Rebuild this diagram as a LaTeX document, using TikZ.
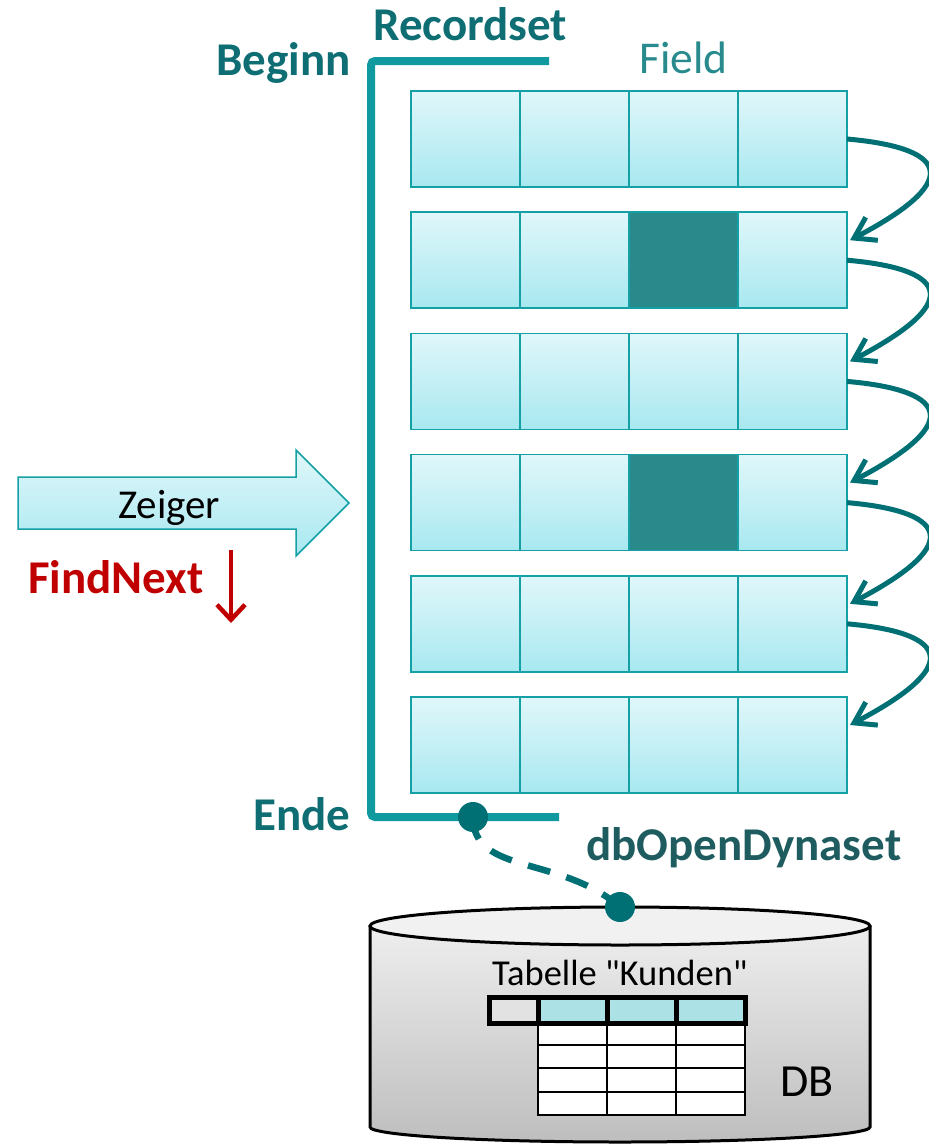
\documentclass[tikz,border=0pt]{standalone}
\usepackage{fontspec}
\setmainfont{Carlito}
\usetikzlibrary{arrows.meta}
\definecolor{bracketc}{RGB}{17,153,160}
\definecolor{darkteal}{RGB}{0,112,117}
\definecolor{labelteal}{RGB}{14,110,115}
\definecolor{dynteal}{RGB}{30,92,96}
\definecolor{fieldteal}{RGB}{40,138,140}
\definecolor{darkcell}{RGB}{42,137,139}
\definecolor{celltop}{RGB}{224,247,250}
\definecolor{cellbot}{RGB}{168,232,240}
\definecolor{cellborder}{RGB}{20,160,165}
\definecolor{findred}{RGB}{192,0,0}
\definecolor{cyltop}{RGB}{238,238,238}
\definecolor{cylbot}{RGB}{190,190,190}
\definecolor{ellfill}{RGB}{241,241,241}
\definecolor{tabteal}{RGB}{172,226,230}
\definecolor{hdrgray}{RGB}{226,226,226}
\begin{document}
\begin{tikzpicture}[x=1pt,y=-1pt,
  cell/.style={draw=cellborder, line width=1.5pt, top color=celltop, bottom color=cellbot,
    minimum width=109pt, minimum height=96pt, inner sep=0pt, outer sep=0pt},
  darkbox/.style={draw=cellborder, line width=1.5pt, fill=darkcell,
    minimum width=109pt, minimum height=96pt, inner sep=0pt, outer sep=0pt},
  curved/.style={draw=darkteal, line width=5pt, -{Straight Barb[length=20pt,width=26pt]}},
  dot/.style={circle, fill=darkteal, minimum size=30pt, inner sep=0pt},
  dashline/.style={draw=darkteal, line width=6.5pt, dash pattern=on 23pt off 17pt},
  boldlbl/.style={font=\fontsize{47}{52}\selectfont\bfseries, inner sep=0pt, anchor=base west},
  txt/.style={inner sep=0pt, anchor=base west},
]
\useasboundingbox (0,0) rectangle (929,1144);

% record cells
\foreach \r in {1,...,6} {
  \foreach \c in {1,...,4} {
    \pgfmathsetmacro\cx{411+109*(\c-1)+54.5}
    \pgfmathsetmacro\cy{91+121.2*(\r-1)+48}
    \node[cell] (c\r\c) at (\cx,\cy) {};
  }
}
\node[darkbox] (k23) at (c23.center) {};
\node[darkbox] (k43) at (c43.center) {};

% curved arrows
\foreach \r/\n in {1/2,2/3,3/4,4/5,5/6} {
  \draw[curved] (c\r4.east) .. controls +(92,8) and +(122,-64) .. ([xshift=3pt,yshift=-28pt]c\n4.north east);
}

% bracket
\coordinate (btopend) at (549,61);
\coordinate (bbotend) at (559,817);
\draw[bracketc, line width=8pt, rounded corners=4pt] (btopend) -- (371,61) -- (371,817) -- (bbotend);

% dashed connection
\coordinate (p1) at (473,817);
\coordinate (p2) at (620,907);

% cylinder
\path[top color=cyltop, bottom color=cylbot] (370,926) -- (370,1127)
  arc[start angle=180, end angle=360, x radius=250pt, y radius=15pt] -- (870,926) -- cycle;
\draw[line width=3pt] (370,926) -- (370,1127)
  arc[start angle=180, end angle=360, x radius=250pt, y radius=15pt] -- (870,926);
\draw[line width=3pt, fill=ellfill] (620,926) ellipse [x radius=250pt, y radius=19pt];

\draw[dashline] (p1) .. controls (473,875) and (560,855) .. (p2);
\node[dot] (d1) at (p1) {};
\node[dot] (d2) at (p2) {};

% table in DB
\foreach \yy/\yb in {1023/1045,1045/1068,1068/1092,1092/1115} {
  \foreach \xa/\xb in {538/607,607/676,676/745} {
    \draw[line width=2.5pt, fill=white] (\xa,\yy) rectangle (\xb,\yb);
  }
}
\draw[line width=5pt, fill=hdrgray] (489,997) rectangle (538,1023);
\foreach \xa/\xb in {538/607,607/676,676/745} {
  \draw[line width=5pt, fill=tabteal] (\xa,997) rectangle (\xb,1023);
}

% Zeiger arrow
\draw[cellborder, line width=1.5pt, top color=celltop, bottom color=cellbot]
  (18,477) -- (296,477) -- (296,450) -- (349,503) -- (296,556) -- (296,529) -- (18,529) -- cycle;
\node[txt, font=\fontsize{41}{46}\selectfont] (zeiger) at (118,518) {Zeiger};

% FindNext
\node[boldlbl, text=findred] (findnext) at (28,593) {FindNext};
\coordinate (fa) at (231,550);
\coordinate (fb) at (231,623);
\draw[findred, line width=4.5pt, -{Straight Barb[length=15pt,width=28pt]}] (fa) -- (fb);

% labels
\node[boldlbl, text=labelteal] (recordset) at (373,40) {Recordset};
\node[boldlbl, text=labelteal] (beginn) at (216,75) {Beginn};
\node[txt, font=\fontsize{45.5}{50}\selectfont, text=fieldteal] (field) at (639,73) {Field};
\node[boldlbl, text=labelteal] (ende) at (253,830) {Ende};
\node[boldlbl, text=dynteal] (dyn) at (586,860) {dbOpenDynaset};
\node[txt, font=\fontsize{36.5}{40}\selectfont] (tab) at (492,985) {Tabelle \textquotedbl Kunden\textquotedbl};
\node[txt, font=\fontsize{46}{50}\selectfont] (db) at (780,1096) {DB};
\end{tikzpicture}
\end{document}
